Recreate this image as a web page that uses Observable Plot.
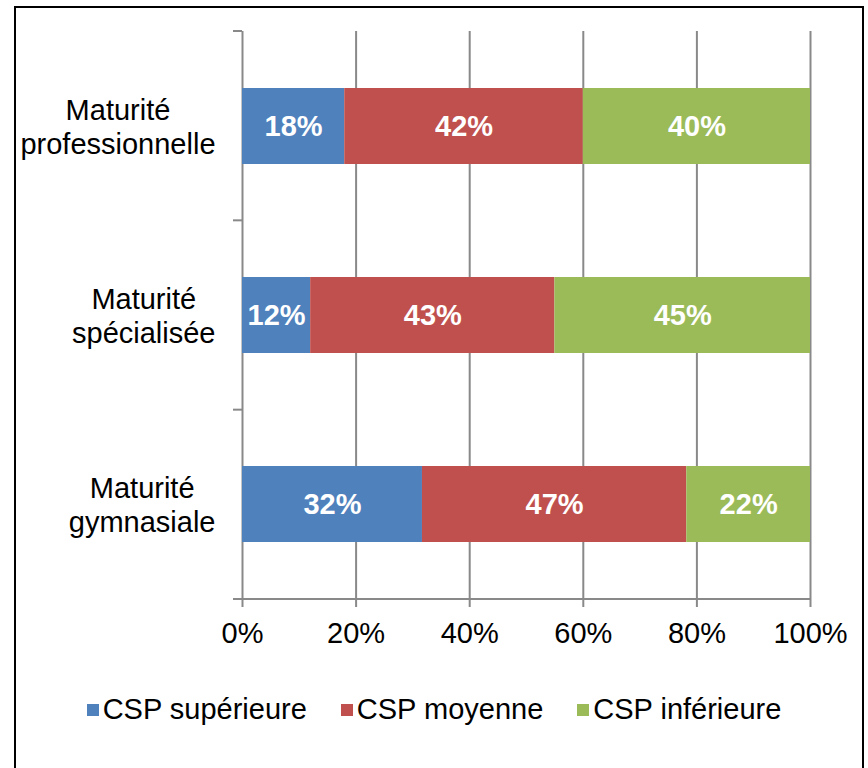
<!DOCTYPE html>
<html>
<head>
<meta charset="utf-8">
<script src="https://cdn.jsdelivr.net/npm/d3@7"></script>
<script src="https://cdn.jsdelivr.net/npm/@observablehq/plot@0.6"></script>
<style>
  html, body { margin: 0; padding: 0; background: #fff; overflow: hidden; }
  #page { position: relative; width: 868px; height: 768px; overflow: hidden; font-family: "Liberation Sans", Arial, sans-serif; }
  #border { position: absolute; left: 14px; top: 6px; width: 850px; height: 820px; border: 2px solid #000; box-sizing: border-box; }
  #chart { position: absolute; left: 0; top: 0; }
  #legend { position: absolute; left: 0; top: 693px; width: 868px; display: flex; justify-content: center; align-items: center; gap: 34px; font-size: 29px; color: #000; }
  .item { display: flex; align-items: center; }
  .sw { width: 12px; height: 12px; margin-right: 4px; }
</style>
</head>
<body>
<div id="page">
  <div id="border"></div>
  <div id="chart"></div>
  <div id="legend"></div>
</div>
<script>
const categories = ["Maturité professionnelle", "Maturité spécialisée", "Maturité gymnasiale"];
const categoryLines = [["Maturité", "professionnelle"], ["Maturité", "spécialisée"], ["Maturité", "gymnasiale"]];
const series = ["CSP supérieure", "CSP moyenne", "CSP inférieure"];
const cspSuperieure = [18, 12, 32];
const cspMoyenne = [42, 43, 47];
const cspInferieure = [40, 45, 22];
const colors = ["#4F81BD", "#C0504D", "#9BBB59"];
const xTicks = [0, 0.2, 0.4, 0.6, 0.8, 1];

const seriesValues = [cspSuperieure, cspMoyenne, cspInferieure];
const data = [];
categories.forEach((cat, i) => {
  series.forEach((s, j) => data.push({cat, csp: s, value: seriesValues[j][i]}));
});

const FONT = '"Liberation Sans", Arial, sans-serif';
const FS = 29;
const gridColor = "#898989";

// measure label widths to right-align each two-line label block
const ctx = document.createElement("canvas").getContext("2d");
ctx.font = FS + "px " + FONT;
const blockWidth = categoryLines.map(lines => Math.max(...lines.map(l => ctx.measureText(l).width)));

const labelMarks = categories.map((cat, i) =>
  Plot.text([cat], {
    y: d => d,
    text: () => categoryLines[i].join("\n"),
    frameAnchor: "left",
    textAnchor: "middle",
    lineHeight: 1.17,
    dx: -(27 + blockWidth[i] / 2),
    fontSize: FS,
    fill: "#000"
  })
);

const axisDecor = (index, scales, values, dims) => {
  const {marginTop, marginBottom, marginLeft, marginRight, height, width} = dims;
  const n = categories.length;
  const step = (height - marginTop - marginBottom) / n;
  const g = d3.create("svg:g").attr("stroke", gridColor).attr("stroke-width", 2);
  for (let i = 0; i < n; i++) {
    const y = marginTop + i * step;
    g.append("line").attr("x1", marginLeft - 9).attr("x2", marginLeft).attr("y1", y).attr("y2", y);
  }
  const yb = height - marginBottom;
  g.append("line").attr("x1", marginLeft - 9).attr("x2", width - marginRight).attr("y1", yb).attr("y2", yb);
  return g.node();
};

const chart = Plot.plot({
  width: 868,
  height: 680,
  marginLeft: 242,
  marginRight: 58,
  marginTop: 31,
  marginBottom: 81,
  style: {fontFamily: FONT, fontSize: FS + "px", background: "transparent", color: "#000"},
  x: {domain: [0, 1], axis: null},
  y: {domain: categories, paddingInner: 0.6, paddingOuter: 0.3, axis: null},
  color: {domain: series, range: colors},
  marks: [
    Plot.ruleX(xTicks, {x: d => d, stroke: gridColor, strokeWidth: 2, insetBottom: -8, strokeOpacity: 1}),
    axisDecor,
    Plot.barX(data, Plot.stackX({x: "value", y: "cat", fill: "csp", offset: "normalize"})),
    Plot.text(data, Plot.stackX({x: "value", y: "cat", z: "csp", offset: "normalize",
      text: d => d.value + "%", fill: "white", fontWeight: "bold", fontSize: FS})),
    Plot.axisX(xTicks, {tickSize: 0, tickPadding: 23, label: null, tickFormat: d => Math.round(d * 100) + "%", fontSize: FS, fill: "#000"}),
    ...labelMarks
  ]
});
document.getElementById("chart").appendChild(chart);

const legend = document.getElementById("legend");
series.forEach((s, i) => {
  const item = document.createElement("div");
  item.className = "item";
  const sw = document.createElement("span");
  sw.className = "sw";
  sw.style.background = colors[i];
  const t = document.createElement("span");
  t.textContent = s;
  item.appendChild(sw);
  item.appendChild(t);
  legend.appendChild(item);
});
</script>
</body>
</html>
